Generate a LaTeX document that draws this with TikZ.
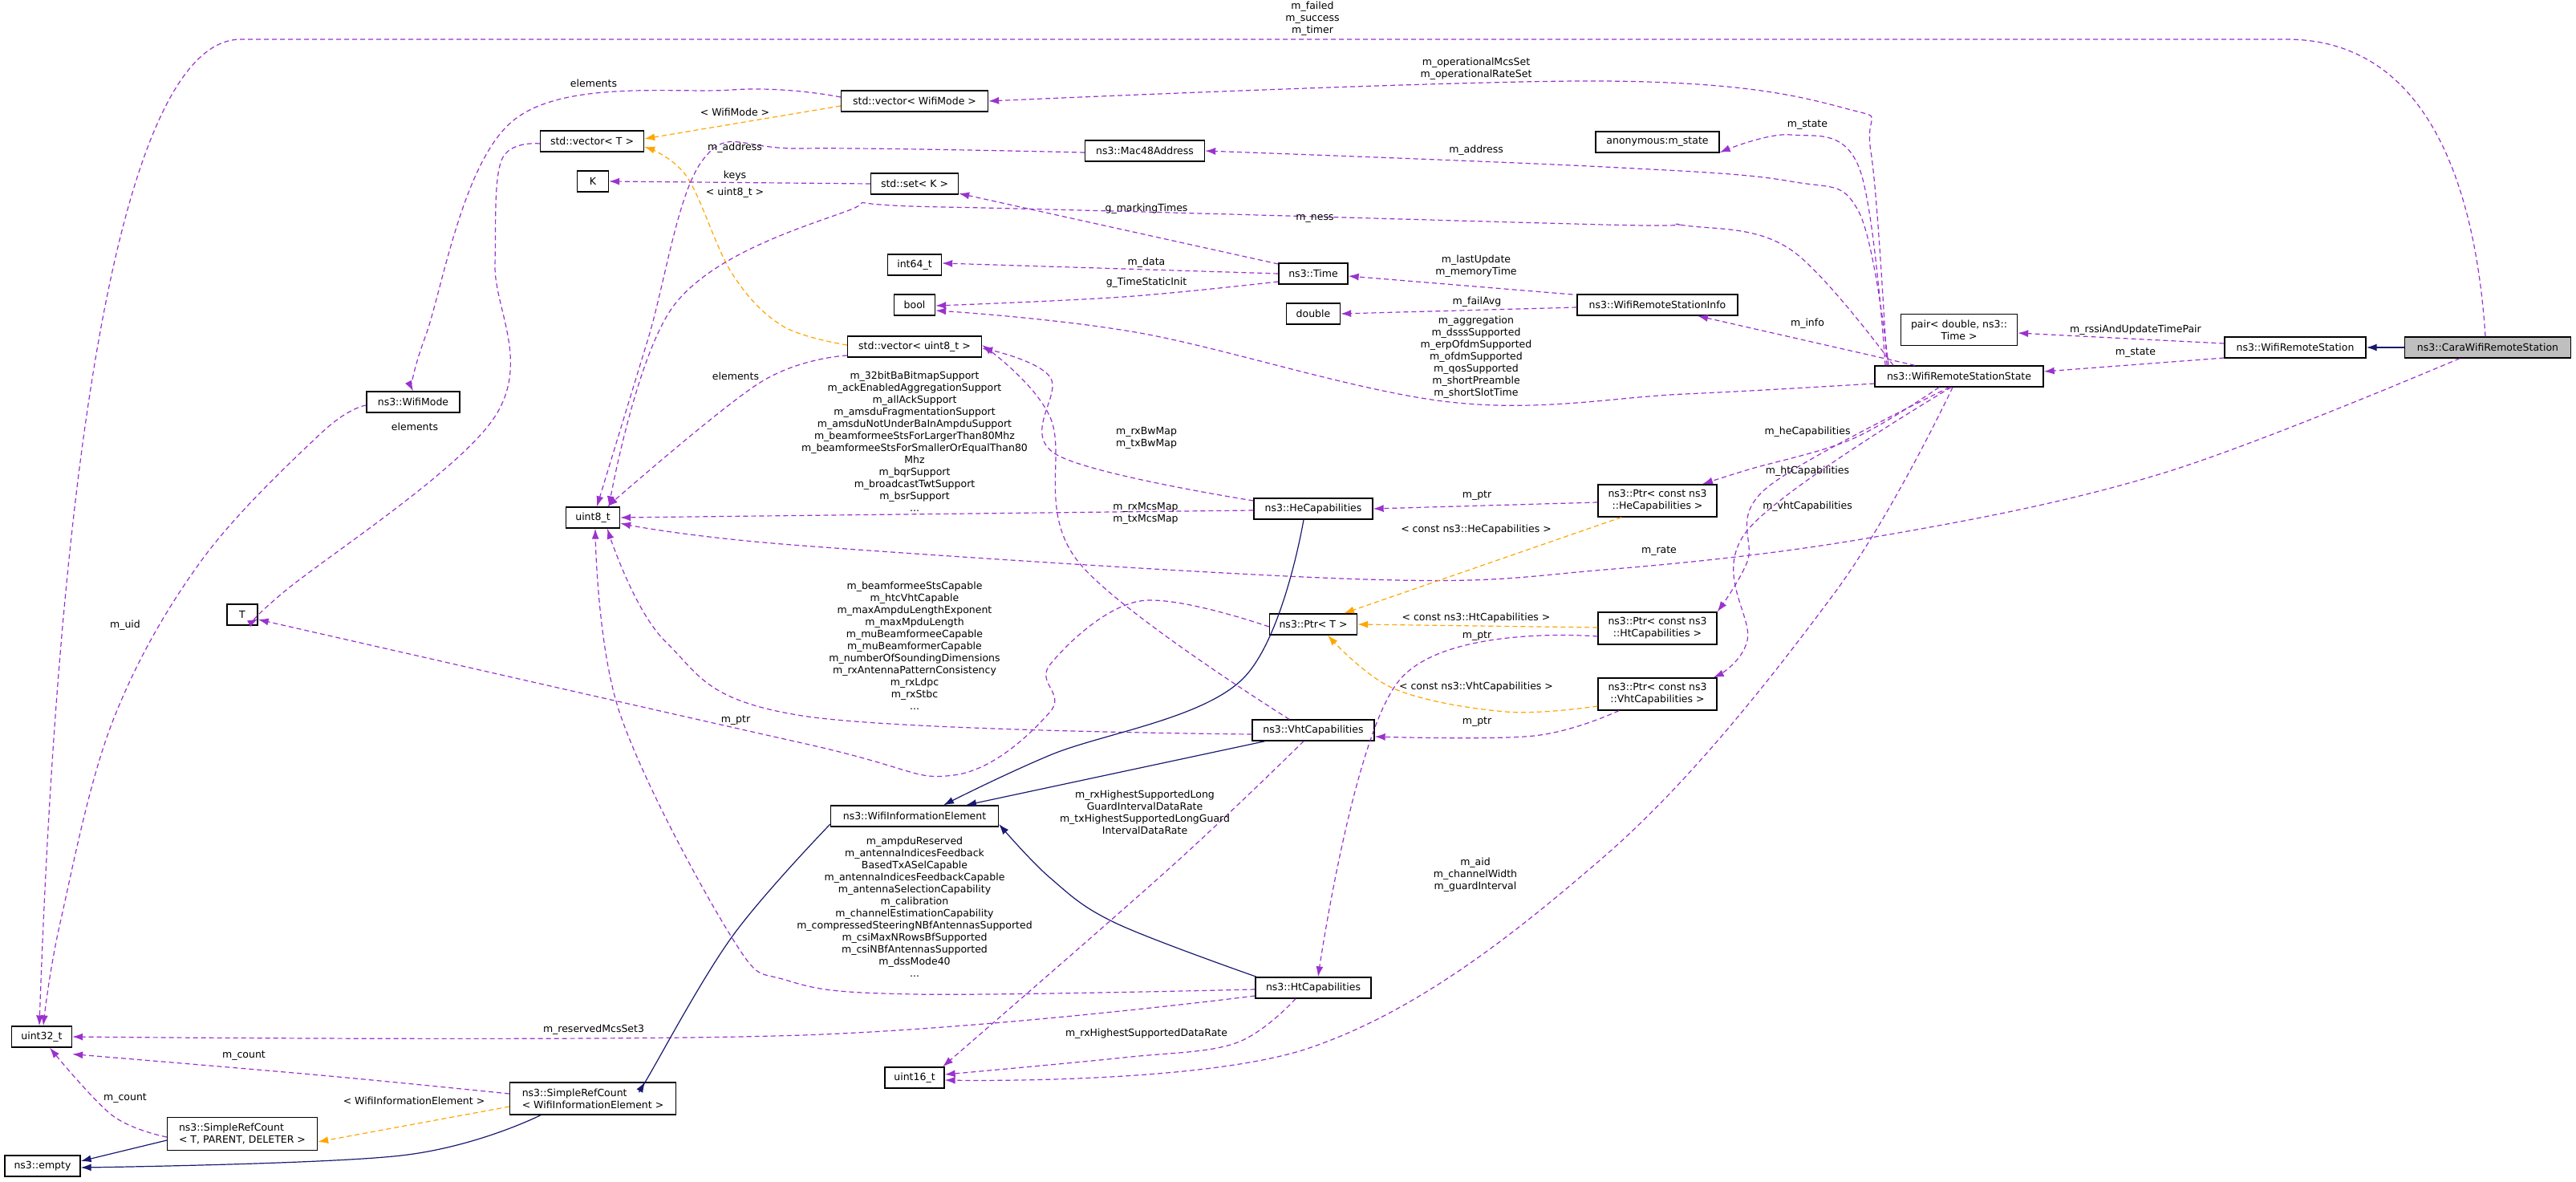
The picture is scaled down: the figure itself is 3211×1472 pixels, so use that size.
\documentclass[tikz,border=0pt]{standalone}
\usepackage{fontspec}
\setmainfont{DejaVu Sans}
\usetikzlibrary{arrows.meta}
\definecolor{pu}{HTML}{9A32CD}
\definecolor{og}{HTML}{FFA500}
\definecolor{nv}{HTML}{191970}
\newcommand{\nf}{\fontsize{12.5}{15}\selectfont}
\begin{document}
\begin{tikzpicture}[x=1pt,y=-1pt,
  box/.style={draw,fill=white,line width=1.3pt,inner sep=0pt,minimum height=26pt,font=\nf,align=center},
  lbl/.style={font=\nf,align=center,inner sep=0pt},
  pe/.style={draw=pu,line width=1.2pt,dash pattern=on 6pt off 4pt,-{Latex[length=13pt,width=9pt]},fill=none},
  oe/.style={draw=og,line width=1.2pt,dash pattern=on 6pt off 4pt,-{Latex[length=13pt,width=9pt,fill=og]}},
  ne/.style={draw=nv,line width=1.2pt,-{Latex[length=13pt,width=9pt,fill=nv]}},
  sm/.style={smooth,tension=0.6}]
\useasboundingbox (0,0) rectangle (3211,1472);
% nodes
\node[box,minimum width=207pt,fill=black!25] (cara) at (3101,433) {ns3::CaraWifiRemoteStation};
\node[box,minimum width=176pt] (wrs) at (2861,433) {ns3::WifiRemoteStation};
\node[box,minimum width=145pt,minimum height=39pt] (pair) at (2442,411) {pair< double, ns3::\\Time >};
\node[box,minimum width=210pt] (wrss) at (2442,469) {ns3::WifiRemoteStationState};
\node[box,minimum width=154pt] (anon) at (2066,177) {anonymous:m\_state};
\node[box,minimum width=200pt] (info) at (2066,380) {ns3::WifiRemoteStationInfo};
\node[box,minimum width=148pt,minimum height=40pt] (ptrhe) at (2066,624) {ns3::Ptr< const ns3\\::HeCapabilities >};
\node[box,minimum width=148pt,minimum height=40pt] (ptrht) at (2066,783) {ns3::Ptr< const ns3\\::HtCapabilities >};
\node[box,minimum width=148pt,minimum height=40pt] (ptrvht) at (2066,865) {ns3::Ptr< const ns3\\::VhtCapabilities >};
\node[box,minimum width=183pt] (vwm) at (1140,126) {std::vector< WifiMode >};
\node[box,minimum width=149pt] (mac) at (1427,188) {ns3::Mac48Address};
\node[box,minimum width=109pt] (setk) at (1140,229) {std::set< K >};
\node[box,minimum width=67pt] (int64) at (1140,330) {int64\_t};
\node[box,minimum width=51pt] (bool) at (1140,380) {bool};
\node[box,minimum width=167pt] (vu8) at (1140,432) {std::vector< uint8\_t >};
\node[box,minimum width=86pt] (time) at (1637,341) {ns3::Time};
\node[box,minimum width=67pt] (dbl) at (1637,391) {double};
\node[box,minimum width=148pt] (he) at (1637,634) {ns3::HeCapabilities};
\node[box,minimum width=109pt] (ptrt) at (1637,778) {ns3::Ptr< T >};
\node[box,minimum width=152pt] (vht) at (1637,910) {ns3::VhtCapabilities};
\node[box,minimum width=209pt] (wie) at (1140,1017) {ns3::WifiInformationElement};
\node[box,minimum width=144pt] (ht) at (1637,1231) {ns3::HtCapabilities};
\node[box,minimum width=74pt] (u16) at (1140,1343) {uint16\_t};
\node[box,minimum width=129pt] (vect) at (738,176) {std::vector< T >};
\node[box,minimum width=39pt] (k) at (739,226) {K};
\node[box,minimum width=116pt] (wm) at (515,501) {ns3::WifiMode};
\node[box,minimum width=67pt] (u8) at (739,645) {uint8\_t};
\node[box,minimum width=38pt] (t) at (302,766) {T};
\node[box,minimum width=75pt] (u32) at (52,1292) {uint32\_t};
\node[box,minimum width=187pt,minimum height=41pt,align=left] (srct) at (302,1413) {ns3::SimpleRefCount\\< T, PARENT, DELETER >};
\node[box,minimum width=207pt,minimum height=40pt,align=left] (srcw) at (739,1369) {ns3::SimpleRefCount\\< WifiInformationElement >};
\node[box,minimum width=94pt] (empty) at (53,1453) {ns3::empty};
% edges
\draw[pe] ([xshift=-3]cara.north) .. controls (3085,220) and (3020,49) .. (2850,49) -- (300,49) .. controls (180,49) and (80,400) .. ([xshift=-3]u32.north);
\node[lbl] at (1636,23) {m\_failed\\m\_success\\m\_timer};
\draw[pe] plot[sm] coordinates {([xshift=-90]wrss.north) (2332,189) (2300,135) (2000,101) (vwm.east)};
\node[lbl] at (1840,86) {m\_operationalMcsSet\\m\_operationalRateSet};
\draw[pe] plot[sm] coordinates {([yshift=5]vwm.west) (912,112) (640,150) (530,420) (wm.north)};
\node[lbl] at (740,104) {elements};
\draw[oe] ([yshift=-6]vwm.west) -- ([yshift=3]vect.east);
\node[lbl] at (916,140) {< WifiMode >};
\draw[oe] plot[sm] coordinates {([yshift=2]vu8.west) (975,406) (912,340) (856,220) ([yshift=-7]vect.east)};
\node[lbl] at (916,240) {< uint8\_t >};
\draw[pe] plot[sm] coordinates {([yshift=-3]vect.west) (625,200) (617,330) (617,519) (351,740) ([yshift=-5]t.east)};
\node[lbl] at (517,532) {elements};
\draw[pe] (setk.west) -- (k.east);
\node[lbl] at (916,219) {keys};
\draw[pe] plot[sm] coordinates {([xshift=-88]wrss.north) (2317,264) (2232,226) (2000,208) (mac.east)};
\node[lbl] at (1840,187) {m\_address};
\draw[pe] plot[sm] coordinates {([yshift=-2]mac.west) (1000,185) (877,198) (807,425) ([xshift=5]u8.north)};
\node[lbl] at (916,184) {m\_address};
\draw[pe] plot[sm] coordinates {([xshift=-92]wrss.north) (2317,208) (2232,168) ([yshift=-13]anon.east)};
\node[lbl] at (2253,156) {m\_state};
\draw[pe] plot[sm] coordinates {([xshift=-82]wrss.north) (2232,311) (2100,281) (2000,280) (1175,258) (1053,264) (842,378) ([xshift=20]u8.north)};
\node[lbl] at (1639,272) {m\_ness};
\draw[pe] ([yshift=12]time.west) -- ([yshift=-12]setk.east);
\node[lbl] at (1429,260) {g\_markingTimes};
\draw[pe] (time.west) -- ([yshift=2]int64.east);
\node[lbl] at (1429,327) {m\_data};
\draw[pe] plot[sm] coordinates {([yshift=-10]time.west) (1400,370) ([yshift=-1]bool.east)};
\node[lbl] at (1429,352) {g\_TimeStaticInit};
\draw[pe] ([yshift=13,xshift=-5]info.west) -- ([yshift=-3]time.east);
\node[lbl] at (1840,332) {m\_lastUpdate\\m\_memoryTime};
\draw[pe] ([yshift=-3]info.west) -- (dbl.east);
\node[lbl] at (1841,376) {m\_failAvg};
\draw[pe] plot[sm] coordinates {([yshift=-9]wrss.west) (2100,491) (1807,501) (1421,415) ([yshift=-7]bool.east)};
\node[lbl] at (1840,445) {m\_aggregation\\m\_dsssSupported\\m\_erpOfdmSupported\\m\_ofdmSupported\\m\_qosSupported\\m\_shortPreamble\\m\_shortSlotTime};
\draw[pe] ([xshift=-55]wrss.north) -- ([xshift=50]info.south);
\node[lbl] at (2253,403) {m\_info};
\draw[pe] ([yshift=5]wrs.west) -- ([yshift=-4]pair.east);
\node[lbl] at (2662,411) {m\_rssiAndUpdateTimePair};
\draw[pe] ([yshift=-13]wrs.west) -- ([yshift=6]wrss.east);
\node[lbl] at (2662,440) {m\_state};
\draw[pe] plot[sm] coordinates {([yshift=-11]vu8.west) (947,477) ([xshift=18]u8.north)};
\node[lbl] at (917,469) {elements};
\draw[pe] plot[sm] coordinates {([yshift=10]he.west) (1316,566) (1309,470) ([yshift=-2]vu8.east)};
\node[lbl] at (1429,546) {m\_rxBwMap\\m\_txBwMap};
\draw[pe] ([yshift=-2]he.west) -- (u8.east);
\node[lbl] at (1140,550) {m\_32bitBaBitmapSupport\\m\_ackEnabledAggregationSupport\\m\_allAckSupport\\m\_amsduFragmentationSupport\\m\_amsduNotUnderBaInAmpduSupport\\m\_beamformeeStsForLargerThan80Mhz\\m\_beamformeeStsForSmallerOrEqualThan80\\Mhz\\m\_bqrSupport\\m\_broadcastTwtSupport\\m\_bsrSupport\\...};
\draw[pe] plot[sm] coordinates {([xshift=-30]vht.north) (1344,700) (1309,520) ([yshift=2]vu8.east)};
\node[lbl] at (1428,640) {m\_rxMcsMap\\m\_txMcsMap};
\draw[pe] plot[sm] coordinates {([xshift=-35]cara.south) (2695,590) (2332,670) (2000,710) (1702,722) (1000,680) ([yshift=-7]u8.east)};
\node[lbl] at (2068,687) {m\_rate};
\draw[pe] plot[sm] coordinates {([xshift=-25]wrss.south) (2309,547) (2180,585) ([xshift=56]ptrhe.north)};
\node[lbl] at (2253,538) {m\_heCapabilities};
\draw[pe] plot[sm] coordinates {([xshift=-12]wrss.south) (2201,609) (2178,700) (ptrht.north east)};
\node[lbl] at (2253,587) {m\_htCapabilities};
\draw[pe] plot[sm] coordinates {([xshift=-10]wrss.south) (2178,661) (2178,798) ([xshift=-5]ptrvht.north east)};
\node[lbl] at (2253,631) {m\_vhtCapabilities};
\draw[pe] plot[sm] coordinates {([xshift=-8]wrss.south) (2286,740) (2000,1067) (1632,1306) ([yshift=-3]u16.east)};
\node[lbl] at (1839,1090) {m\_aid\\m\_channelWidth\\m\_guardInterval};
\draw[pe] ([yshift=-2]ptrhe.west) -- (he.east);
\node[lbl] at (1841,618) {m\_ptr};
\draw[oe] ([xshift=-45]ptrhe.south) -- ([xshift=38]ptrt.north);
\node[lbl] at (1840,660) {< const ns3::HeCapabilities >};
\draw[oe] ([yshift=1]ptrht.west) -- (ptrt.east);
\node[lbl] at (1840,770) {< const ns3::HtCapabilities >};
\draw[oe] plot[sm] coordinates {([yshift=-15]ptrvht.west) (1877,887) (1737,858) ([xshift=18]ptrt.south)};
\node[lbl] at (1840,856) {< const ns3::VhtCapabilities >};
\draw[pe] plot[sm] coordinates {([yshift=-10]ptrht.west) (1744,848) ([xshift=6]ht.north)};
\node[lbl] at (1841,793) {m\_ptr};
\draw[pe] plot[sm] coordinates {([xshift=-48]ptrvht.south) (1912,917) ([yshift=-8]vht.east)};
\node[lbl] at (1841,900) {m\_ptr};
\draw[pe] plot[sm] coordinates {([yshift=-3]ptrt.west) (1421,749) (1309,828) (1309,887) (1189,966) (1000,926) ([yshift=-6]t.east)};
\node[lbl] at (917,898) {m\_ptr};
\draw[pe] plot[sm] coordinates {([yshift=-5]vht.west) (1000,892) (830,800) ([xshift=18]u8.south)};
\node[lbl] at (1140,805) {m\_beamformeeStsCapable\\m\_htcVhtCapable\\m\_maxAmpduLengthExponent\\m\_maxMpduLength\\m\_muBeamformeeCapable\\m\_muBeamformerCapable\\m\_numberOfSoundingDimensions\\m\_rxAntennaPatternConsistency\\m\_rxLdpc\\m\_rxStbc\\...};
\draw[pe] plot[sm] coordinates {([xshift=-12]vht.south) (1460,1080) ([xshift=35]u16.north)};
\node[lbl] at (1427,1012) {m\_rxHighestSupportedLong\\GuardIntervalDataRate\\m\_txHighestSupportedLongGuard\\IntervalDataRate};
\draw[pe] plot[sm] coordinates {([yshift=-2]ht.west) (1140,1239) (982,1222) (912,1168) (772,887) ([xshift=3]u8.south)};
\node[lbl] at (1140,1130) {m\_ampduReserved\\m\_antennaIndicesFeedback\\BasedTxASelCapable\\m\_antennaIndicesFeedbackCapable\\m\_antennaSelectionCapability\\m\_calibration\\m\_channelEstimationCapability\\m\_compressedSteeringNBfAntennasSupported\\m\_csiMaxNRowsBfSupported\\m\_csiNBfAntennasSupported\\m\_dssMode40\\...};
\draw[pe] plot[sm] coordinates {([yshift=-10]ht.west) (1000,1290) (u32.east)};
\node[lbl] at (740,1283) {m\_reservedMcsSet3};
\draw[pe] plot[sm] coordinates {([xshift=-22]ht.south) (1540,1300) (1400,1318) ([yshift=4]u16.east)};
\node[lbl] at (1429,1288) {m\_rxHighestSupportedDataRate};
\draw[pe] plot[sm] coordinates {([yshift=-4]wm.west) (400,540) (250,700) (140,900) (75,1150) ([xshift=2]u32.north)};
\node[lbl] at (156,779) {m\_uid};
\draw[pe] plot[sm] coordinates {([yshift=6]srcw.west) (400,1340) ([yshift=-8]u32.south east)};
\node[lbl] at (304,1316) {m\_count};
\draw[pe] plot[sm] coordinates {([yshift=-4]srct.west) (140,1390) ([xshift=10]u32.south)};
\node[lbl] at (156,1369) {m\_count};
\draw[oe] ([yshift=-10]srcw.west) -- ([yshift=-10]srct.east);
\node[lbl] at (516,1372) {< WifiInformationElement >};
\draw[ne] (cara.west) -- (wrs.east);
\draw[ne] plot[sm] coordinates {([xshift=-12]he.south) (1547,848) (1309,941) ([xshift=36]wie.north)};
\draw[ne] ([xshift=-60]vht.south) -- ([xshift=64]wie.north);
\draw[ne] plot[sm] coordinates {([xshift=2]ht.north west) (1390,1150) (1309,1094) ([yshift=-10]wie.east)};
\draw[ne] plot[sm] coordinates {([yshift=-10]wie.west) (912,1168) (805,1347) ([xshift=65]srcw.north)};
\draw[ne] plot[sm] coordinates {([xshift=-65]srcw.south) (500,1440) ([yshift=-2]empty.east)};
\draw[ne] ([yshift=-8]srct.west) -- ([yshift=6]empty.east);
\end{tikzpicture}
\end{document}
